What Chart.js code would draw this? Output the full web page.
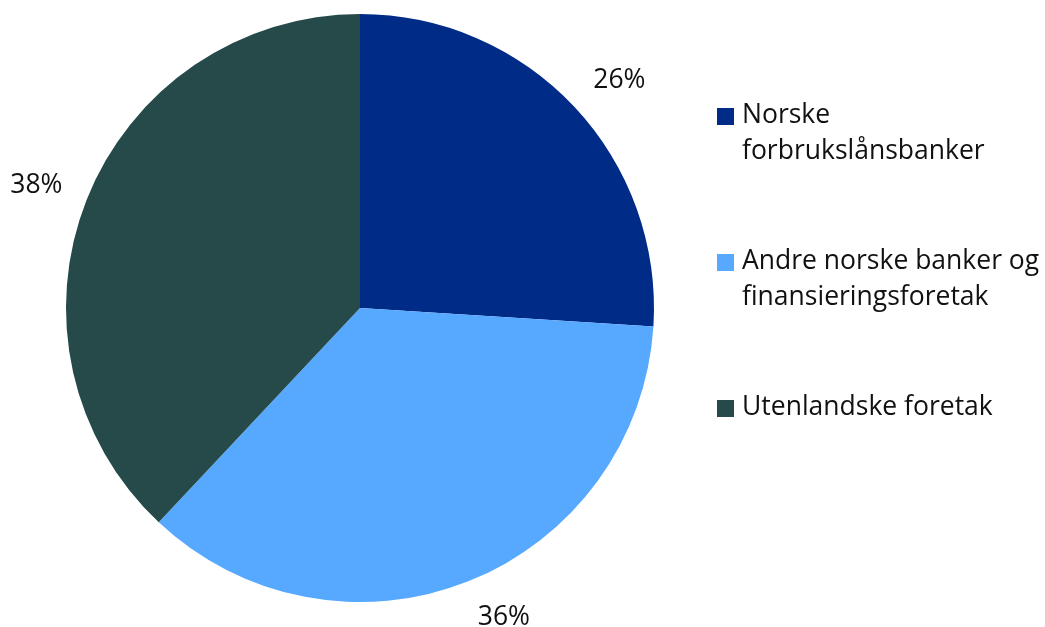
<!DOCTYPE html>
<html>
<head>
<meta charset="utf-8">
<script src="https://cdn.jsdelivr.net/npm/chart.js@4"></script>
<style>
  html, body { margin: 0; padding: 0; background: #fff; }
  #wrap { position: relative; width: 1045px; height: 627px; font-family: "Open Sans", sans-serif; }
  #c { position: absolute; left: 0; top: 0; }
  #legend { position: absolute; left: 717px; top: 96px; width: 328px; }
  .item { position: relative; padding-left: 25px; font-size: 26.5px; line-height: 35.5px; color: #111; white-space: nowrap; margin-bottom: 75px; }
  .sw { position: absolute; left: 0; top: 12px; width: 17px; height: 17px; }
</style>
</head>
<body>
<div id="wrap">
  <canvas id="c" width="1045" height="627"></canvas>
  <div id="legend"></div>
</div>
<script>
const categories = [
  ['Norske', 'forbrukslånsbanker'],
  ['Andre norske banker og', 'finansieringsforetak'],
  ['Utenlandske foretak']
];
const shares = [26, 36, 38];
const colors = ['#002B87', '#56A9FF', '#264A4A'];

// HTML legend
const legend = document.getElementById('legend');
categories.forEach((lines, i) => {
  const d = document.createElement('div');
  d.className = 'item';
  const sw = document.createElement('span');
  sw.className = 'sw';
  sw.style.background = colors[i];
  d.appendChild(sw);
  lines.forEach((t, j) => {
    if (j) d.appendChild(document.createElement('br'));
    d.appendChild(document.createTextNode(t));
  });
  legend.appendChild(d);
});

const outLabels = {
  id: 'outLabels',
  afterDatasetsDraw(chart) {
    const ctx = chart.ctx;
    const meta = chart.getDatasetMeta(0);
    ctx.save();
    ctx.font = '26.5px "Open Sans"';
    ctx.fillStyle = '#111';
    ctx.textAlign = 'center';
    ctx.textBaseline = 'middle';
    meta.data.forEach((arc, i) => {
      const mid = (arc.startAngle + arc.endAngle) / 2;
      const r = arc.outerRadius + 26;
      const text = shares[i] + '%';
      const w = ctx.measureText(text).width;
      const h = 26;
      const cx = arc.x + Math.cos(mid) * r + Math.sign(Math.cos(mid)) * w / 2;
      const cy = arc.y + Math.sin(mid) * r + Math.sin(mid) * h / 2;
      ctx.fillText(text, cx, cy);
    });
    ctx.restore();
  }
};

new Chart(document.getElementById('c'), {
  type: 'pie',
  data: {
    labels: categories.map(l => l.join(' ')),
    datasets: [{
      data: shares,
      backgroundColor: colors,
      borderWidth: 0
    }]
  },
  options: {
    responsive: false,
    animation: false,
    layout: { padding: { left: 66, right: 391, top: 14, bottom: 25 } },
    plugins: { legend: { display: false }, tooltip: { enabled: false } }
  },
  plugins: [outLabels]
});
</script>
</body>
</html>
